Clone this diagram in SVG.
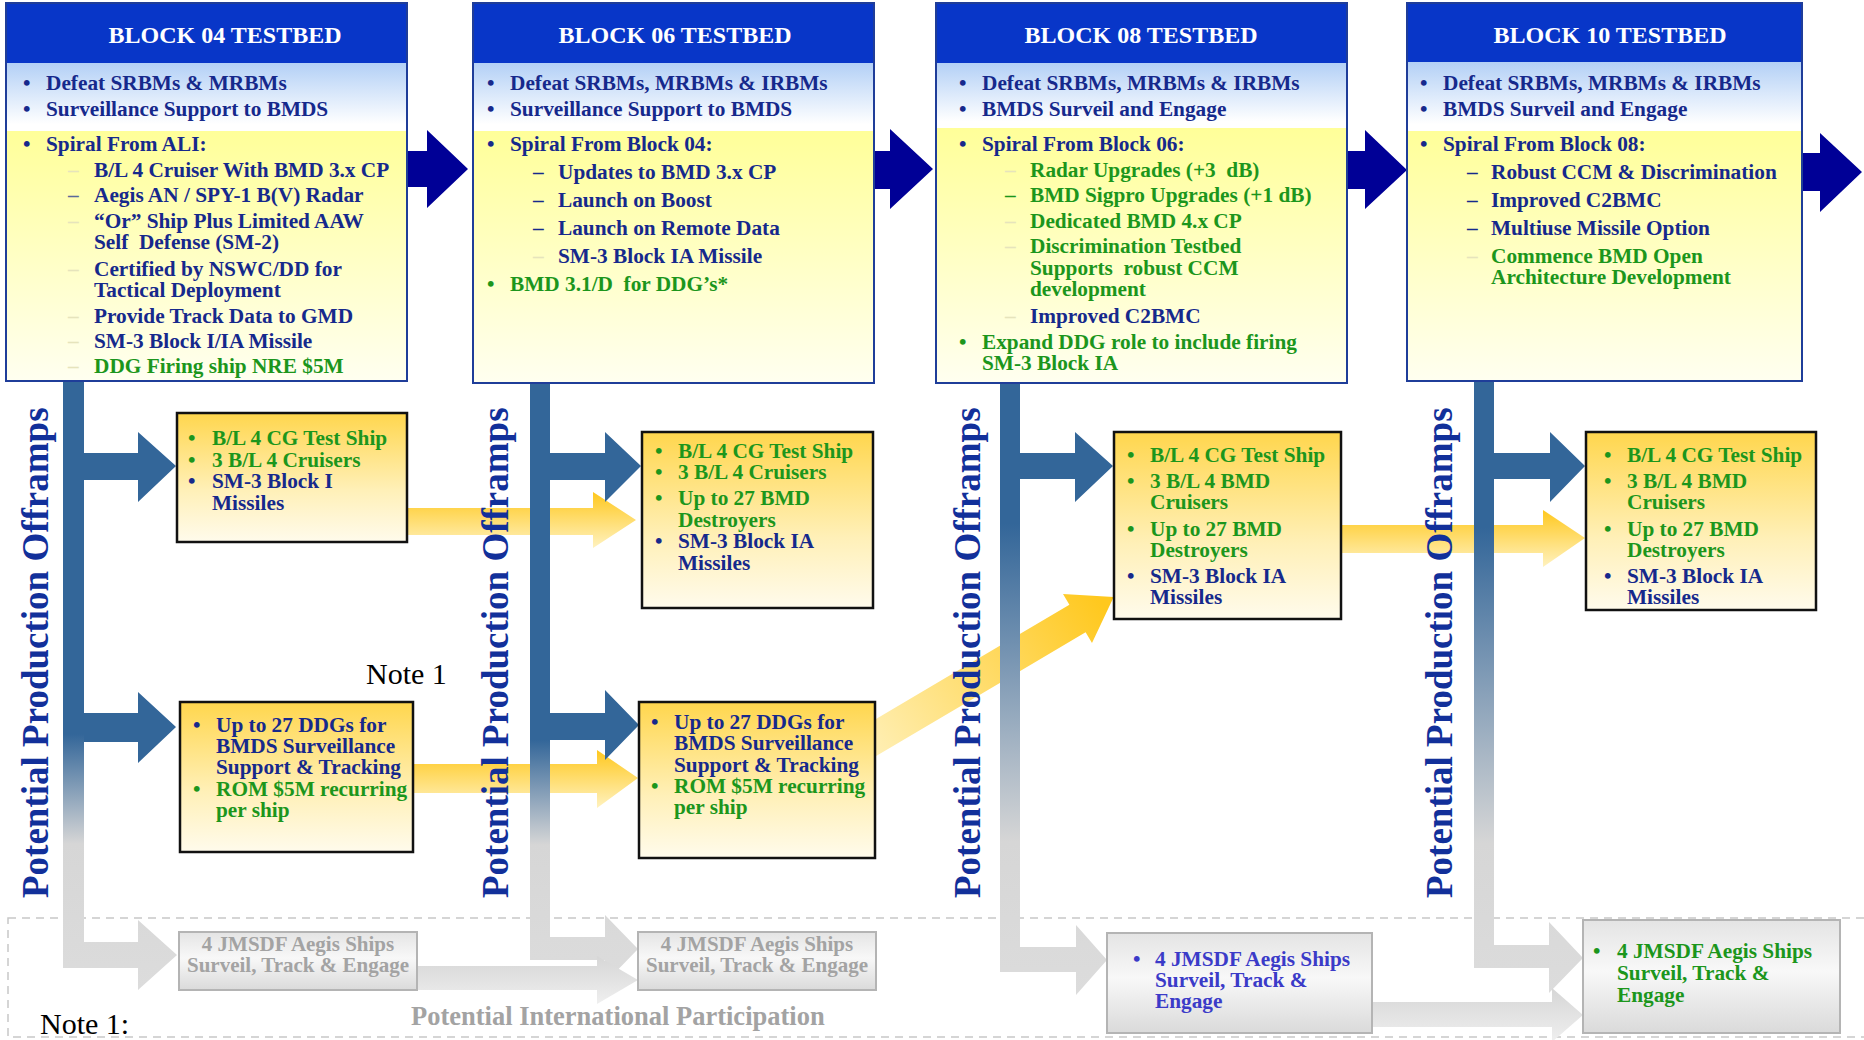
<svg xmlns="http://www.w3.org/2000/svg" width="1864" height="1040" viewBox="0 0 1864 1040">
<defs>
<style>
.t{font-family:"Liberation Serif","Times New Roman",serif;font-weight:bold;font-size:21.3px}
.n{fill:#16298c}
.g{fill:#1c961c}
.f{fill:#e6e4bc}
.hd{font-family:"Liberation Serif","Times New Roman",serif;font-weight:bold;font-size:24px;fill:#ffffff;text-anchor:middle}
.vt{font-family:"Liberation Serif","Times New Roman",serif;font-weight:bold;font-size:37px;fill:#12309a}
.hdr{fill:#0836c8}
.frame{fill:none;stroke:#1f3d99;stroke-width:2}
.ybox{fill:url(#gGold);stroke:#111111;stroke-width:2.5}
.gbox{fill:url(#gGrayBox);stroke:#b4b4b4;stroke-width:2}
.navy{fill:#000096}
.steel{fill:#336699}
.gold{fill:url(#gGoldArrow)}
.grey{fill:url(#gGrayArrow)}
.note{font-family:"Liberation Serif","Times New Roman",serif;font-size:30px;fill:#000000}
.gt{font-family:"Liberation Serif","Times New Roman",serif;font-weight:bold;font-size:21px;fill:#a3a3a3;text-anchor:middle}
.bt{fill:#3b3bc8}
</style>
<linearGradient id="gBlue" x1="0" y1="0" x2="0" y2="1"><stop offset="0" stop-color="#b3d0f6"/><stop offset="0.9" stop-color="#ffffff"/></linearGradient>
<linearGradient id="gYel" x1="0" y1="0" x2="0" y2="1"><stop offset="0" stop-color="#ffff99"/><stop offset="1" stop-color="#fffff0"/></linearGradient>
<linearGradient id="gGold" x1="0" y1="0" x2="0" y2="1"><stop offset="0" stop-color="#ffd64d"/><stop offset="0.6" stop-color="#fff0b8"/><stop offset="1" stop-color="#fffbec"/></linearGradient>
<linearGradient id="gGoldArrow" x1="0" y1="0" x2="0" y2="1"><stop offset="0" stop-color="#ffc81e"/><stop offset="1" stop-color="#fff2c0"/></linearGradient>
<linearGradient id="gDiag" gradientUnits="userSpaceOnUse" x1="870" y1="760" x2="1100" y2="600"><stop offset="0" stop-color="#fff0b8"/><stop offset="1" stop-color="#ffc81e"/></linearGradient>
<linearGradient id="gGrayBox" x1="0" y1="0" x2="0" y2="1"><stop offset="0" stop-color="#e4e4e4"/><stop offset="0.45" stop-color="#f8f8f8"/><stop offset="1" stop-color="#dadada"/></linearGradient>
<linearGradient id="gGrayArrow" x1="0" y1="0" x2="0" y2="1"><stop offset="0" stop-color="#d6d6d6"/><stop offset="1" stop-color="#efefef"/></linearGradient>
<linearGradient id="gBar04" gradientUnits="userSpaceOnUse" x1="0" y1="381" x2="0" y2="990"><stop offset="0" stop-color="#336699"/><stop offset="0.58" stop-color="#336699"/><stop offset="0.76" stop-color="#d6d6d6"/><stop offset="1" stop-color="#dcdcdc"/></linearGradient>
<linearGradient id="gBar06" gradientUnits="userSpaceOnUse" x1="0" y1="383" x2="0" y2="983"><stop offset="0" stop-color="#336699"/><stop offset="0.595" stop-color="#336699"/><stop offset="0.77" stop-color="#d6d6d6"/><stop offset="1" stop-color="#dcdcdc"/></linearGradient>
<linearGradient id="gBar08" gradientUnits="userSpaceOnUse" x1="0" y1="383" x2="0" y2="995"><stop offset="0" stop-color="#336699"/><stop offset="0.23" stop-color="#336699"/><stop offset="0.75" stop-color="#d6d6d6"/><stop offset="1" stop-color="#dcdcdc"/></linearGradient>
<linearGradient id="gBar10" gradientUnits="userSpaceOnUse" x1="0" y1="381" x2="0" y2="993"><stop offset="0" stop-color="#336699"/><stop offset="0.24" stop-color="#336699"/><stop offset="0.755" stop-color="#d6d6d6"/><stop offset="1" stop-color="#dcdcdc"/></linearGradient>
</defs>

<rect x="0" y="0" width="1864" height="1040" fill="#ffffff"/>

<g id="international-zone">
<rect x="8" y="918" width="1872" height="119" fill="none" stroke="#c8c8c8" stroke-width="1.5" stroke-dasharray="8 6"/>
</g>

<g id="connectors">
<path class="navy" d="M407,151 H427 V130 L468,169 L427,208 V187 H407 Z"/>
<path class="navy" d="M874,151 H890 V129 L933,169 L890,209 V189 H874 Z"/>
<path class="navy" d="M1347,151 H1365 V130 L1407,170 L1365,209 V189 H1347 Z"/>
<path class="navy" d="M1802,153 H1820 V133 L1862,172 L1820,212 V191 H1802 Z"/>
<path class="gold" d="M400,508 H593 V492 L636,520 L593,548 V535 H400 Z"/>
<path class="gold" d="M405,764 H597 V750 L638,778 L597,808 V793 H405 Z"/>
<path fill="url(#gDiag)" d="M851.9,733.3 L1069.4,604.7 L1063,594 L1113.7,597.1 L1092,643 L1085.6,632.3 L868.1,760.8 Z"/>
<path class="gold" d="M1335,525 H1543 V510 L1585,538 L1543,567 V553 H1335 Z"/>
<path fill="url(#gBar04)" d="M63,381 H84 V942 H138 V920 L177,955 L138,990 V968 H63 Z"/>
<path fill="url(#gBar06)" d="M530,383 H550 V937 H605 V915 L638,949 L605,983 V960 H530 Z"/>
<path fill="url(#gBar08)" d="M1000,383 H1020 V947 H1076 V925 L1107,960 L1076,995 V972 H1000 Z"/>
<path fill="url(#gBar10)" d="M1474,381 H1494 V945 H1549 V922 L1583,958 L1549,993 V968 H1474 Z"/>
<path class="steel" d="M84,453 H138 V432 L176,466 L138,502 V480 H84 Z"/>
<path class="steel" d="M84,713 H138 V692 L176,727 L138,763 V742 H84 Z"/>
<path class="steel" d="M550,453 H605 V432 L641,466 L605,502 V480 H550 Z"/>
<path class="steel" d="M550,713 H605 V690 L639,725 L605,760 V740 H550 Z"/>
<path class="steel" d="M1020,453 H1075 V432 L1113,466 L1075,502 V479 H1020 Z"/>
<path class="steel" d="M1494,453 H1550 V432 L1585,466 L1550,502 V479 H1494 Z"/>
<path class="grey" d="M416,966 H597 V956 L638,980 L597,1004 V990 H416 Z"/>
<path class="grey" d="M1371,1002 H1552 V988 L1583,1015 L1552,1042 V1027 H1371 Z"/>
</g>

<g id="offramp-labels">
<text class="vt" transform="translate(48,898) rotate(-90)">Potential Production Offramps</text>
<text class="vt" transform="translate(508,898) rotate(-90)">Potential Production Offramps</text>
<text class="vt" transform="translate(980,898) rotate(-90)">Potential Production Offramps</text>
<text class="vt" transform="translate(1452,898) rotate(-90)">Potential Production Offramps</text>
</g>

<g id="block04">
<rect class="hdr" x="6" y="3" width="401" height="60"/>
<rect x="6" y="63" width="401" height="68" fill="url(#gBlue)"/>
<rect x="6" y="131" width="401" height="250" fill="url(#gYel)"/>
<rect class="frame" x="6" y="3" width="401" height="378"/>
<text class="hd" x="225" y="43">BLOCK 04 TESTBED</text>
<g class="t">
<text class="n" x="23" y="89.5">•</text><text class="n" x="46" y="89.5">Defeat SRBMs &amp; MRBMs</text>
<text class="n" x="23" y="115.5">•</text><text class="n" x="46" y="115.5">Surveillance Support to BMDS</text>
<text class="n" x="23" y="150.5">•</text><text class="n" x="46" y="150.5">Spiral From ALI:</text>
<text class="f" x="68" y="176.5">–</text><text class="n" x="94" y="176.5">B/L 4 Cruiser With BMD 3.x CP</text>
<text fill="#5a6a9a" x="68" y="201.5">–</text><text class="n" x="94" y="201.5">Aegis AN / SPY-1 B(V) Radar</text>
<text class="f" x="68" y="228">–</text><text class="n" x="94" y="228">“Or” Ship Plus Limited AAW</text>
<text class="n" x="94" y="249">Self&#160; Defense (SM-2)</text>
<text class="f" x="68" y="276">–</text><text class="n" x="94" y="276">Certified by NSWC/DD for</text>
<text class="n" x="94" y="297">Tactical Deployment</text>
<text class="f" x="68" y="323">–</text><text class="n" x="94" y="323">Provide Track Data to GMD</text>
<text class="f" x="68" y="348">–</text><text class="n" x="94" y="348">SM-3 Block I/IA Missile</text>
<text class="f" x="68" y="373">–</text><text class="g" x="94" y="373">DDG Firing ship NRE $5M</text>
</g>
</g>

<g id="block06">
<rect class="hdr" x="473" y="3" width="401" height="60"/>
<rect x="473" y="63" width="401" height="68" fill="url(#gBlue)"/>
<rect x="473" y="131" width="401" height="252" fill="url(#gYel)"/>
<rect class="frame" x="473" y="3" width="401" height="380"/>
<text class="hd" x="675" y="43">BLOCK 06 TESTBED</text>
<g class="t">
<text class="n" x="487" y="90">•</text><text class="n" x="510" y="90">Defeat SRBMs, MRBMs &amp; IRBMs</text>
<text class="n" x="487" y="116">•</text><text class="n" x="510" y="116">Surveillance Support to BMDS</text>
<text class="n" x="487" y="151">•</text><text class="n" x="510" y="151">Spiral From Block 04:</text>
<text class="n" x="533" y="179">–</text><text class="n" x="558" y="179">Updates to BMD 3.x CP</text>
<text class="n" x="533" y="207">–</text><text class="n" x="558" y="207">Launch on Boost</text>
<text class="n" x="533" y="235">–</text><text class="n" x="558" y="235">Launch on Remote Data</text>
<text class="f" x="533" y="263">–</text><text class="n" x="558" y="263">SM-3 Block IA Missile</text>
<text class="g" x="487" y="291">•</text><text class="g" x="510" y="291">BMD 3.1/D&#160; for DDG’s*</text>
</g>
</g>

<g id="block08">
<rect class="hdr" x="936" y="3" width="411" height="60"/>
<rect x="936" y="63" width="411" height="65" fill="url(#gBlue)"/>
<rect x="936" y="128" width="411" height="255" fill="url(#gYel)"/>
<rect class="frame" x="936" y="3" width="411" height="380"/>
<text class="hd" x="1141" y="43">BLOCK 08 TESTBED</text>
<g class="t">
<text class="n" x="959" y="90">•</text><text class="n" x="982" y="90">Defeat SRBMs, MRBMs &amp; IRBMs</text>
<text class="n" x="959" y="116">•</text><text class="n" x="982" y="116">BMDS Surveil and Engage</text>
<text class="n" x="959" y="151">•</text><text class="n" x="982" y="151">Spiral From Block 06:</text>
<text class="f" x="1005" y="177">–</text><text class="g" x="1030" y="177">Radar Upgrades (+3&#160; dB)</text>
<text class="g" x="1005" y="202">–</text><text class="g" x="1030" y="202">BMD Sigpro Upgrades (+1 dB)</text>
<text class="f" x="1005" y="228">–</text><text class="g" x="1030" y="228">Dedicated BMD 4.x CP</text>
<text class="f" x="1005" y="253">–</text><text class="g" x="1030" y="253">Discrimination Testbed</text>
<text class="g" x="1030" y="275">Supports&#160; robust CCM</text>
<text class="g" x="1030" y="296">development</text>
<text class="f" x="1005" y="323">–</text><text class="n" x="1030" y="323">Improved C2BMC</text>
<text class="g" x="959" y="349">•</text><text class="g" x="982" y="349">Expand DDG role to include firing</text>
<text class="g" x="982" y="370">SM-3 Block IA</text>
</g>
</g>

<g id="block10">
<rect class="hdr" x="1407" y="3" width="395" height="59"/>
<rect x="1407" y="62" width="395" height="69" fill="url(#gBlue)"/>
<rect x="1407" y="131" width="395" height="250" fill="url(#gYel)"/>
<rect class="frame" x="1407" y="3" width="395" height="378"/>
<text class="hd" x="1610" y="43">BLOCK 10 TESTBED</text>
<g class="t">
<text class="n" x="1420" y="90">•</text><text class="n" x="1443" y="90">Defeat SRBMs, MRBMs &amp; IRBMs</text>
<text class="n" x="1420" y="116">•</text><text class="n" x="1443" y="116">BMDS Surveil and Engage</text>
<text class="n" x="1420" y="151">•</text><text class="n" x="1443" y="151">Spiral From Block 08:</text>
<text class="n" x="1467" y="179">–</text><text class="n" x="1491" y="179">Robust CCM &amp; Discrimination</text>
<text class="n" x="1467" y="207">–</text><text class="n" x="1491" y="207">Improved C2BMC</text>
<text class="n" x="1467" y="235">–</text><text class="n" x="1491" y="235">Multiuse Missile Option</text>
<text class="f" x="1467" y="263">–</text><text class="g" x="1491" y="263">Commence BMD Open</text>
<text class="g" x="1491" y="284">Architecture Development</text>
</g>
</g>

<g id="offramp04-upper">
<rect class="ybox" x="177" y="413" width="230" height="129"/>
<g class="t">
<text class="g" x="188" y="445">•</text><text class="g" x="212" y="445">B/L 4 CG Test Ship</text>
<text class="g" x="188" y="467">•</text><text class="g" x="212" y="467">3 B/L 4 Cruisers</text>
<text class="n" x="188" y="488">•</text><text class="n" x="212" y="488">SM-3 Block I</text>
<text class="n" x="212" y="510">Missiles</text>
</g>
</g>

<g id="offramp04-lower">
<rect class="ybox" x="180" y="702" width="233" height="150"/>
<g class="t">
<text class="n" x="193" y="732">•</text><text class="n" x="216" y="732">Up to 27 DDGs for</text>
<text class="n" x="216" y="753">BMDS Surveillance</text>
<text class="n" x="216" y="774">Support &amp; Tracking</text>
<text class="g" x="193" y="796">•</text><text class="g" x="216" y="796">ROM $5M recurring</text>
<text class="g" x="216" y="817">per ship</text>
</g>
</g>

<g id="offramp06-upper">
<rect class="ybox" x="642" y="432" width="231" height="176"/>
<g class="t">
<text class="g" x="655" y="458">•</text><text class="g" x="678" y="458">B/L 4 CG Test Ship</text>
<text class="g" x="655" y="479">•</text><text class="g" x="678" y="479">3 B/L 4 Cruisers</text>
<text class="g" x="655" y="505">•</text><text class="g" x="678" y="505">Up to 27 BMD</text>
<text class="g" x="678" y="527">Destroyers</text>
<text class="n" x="655" y="548">•</text><text class="n" x="678" y="548">SM-3 Block IA</text>
<text class="n" x="678" y="570">Missiles</text>
</g>
</g>

<g id="offramp06-lower">
<rect class="ybox" x="639" y="702" width="236" height="156"/>
<g class="t">
<text class="n" x="651" y="729">•</text><text class="n" x="674" y="729">Up to 27 DDGs for</text>
<text class="n" x="674" y="750">BMDS Surveillance</text>
<text class="n" x="674" y="772">Support &amp; Tracking</text>
<text class="g" x="651" y="793">•</text><text class="g" x="674" y="793">ROM $5M recurring</text>
<text class="g" x="674" y="814">per ship</text>
</g>
</g>

<g id="offramp08-upper">
<rect class="ybox" x="1114" y="432" width="227" height="187"/>
<g class="t">
<text class="g" x="1127" y="462">•</text><text class="g" x="1150" y="462">B/L 4 CG Test Ship</text>
<text class="g" x="1127" y="488">•</text><text class="g" x="1150" y="488">3 B/L 4 BMD</text>
<text class="g" x="1150" y="509">Cruisers</text>
<text class="g" x="1127" y="536">•</text><text class="g" x="1150" y="536">Up to 27 BMD</text>
<text class="g" x="1150" y="557">Destroyers</text>
<text class="n" x="1127" y="583">•</text><text class="n" x="1150" y="583">SM-3 Block IA</text>
<text class="n" x="1150" y="604">Missiles</text>
</g>
</g>

<g id="offramp10-upper">
<rect class="ybox" x="1586" y="432" width="230" height="178"/>
<g class="t">
<text class="g" x="1604" y="462">•</text><text class="g" x="1627" y="462">B/L 4 CG Test Ship</text>
<text class="g" x="1604" y="488">•</text><text class="g" x="1627" y="488">3 B/L 4 BMD</text>
<text class="g" x="1627" y="509">Cruisers</text>
<text class="g" x="1604" y="536">•</text><text class="g" x="1627" y="536">Up to 27 BMD</text>
<text class="g" x="1627" y="557">Destroyers</text>
<text class="n" x="1604" y="583">•</text><text class="n" x="1627" y="583">SM-3 Block IA</text>
<text class="n" x="1627" y="604">Missiles</text>
</g>
</g>

<g id="jmsdf04">
<rect class="gbox" x="179" y="932" width="238" height="58"/>
<text class="gt" x="298" y="951">4 JMSDF Aegis Ships</text>
<text class="gt" x="298" y="972">Surveil, Track &amp; Engage</text>
</g>

<g id="jmsdf06">
<rect class="gbox" x="638" y="932" width="238" height="58"/>
<text class="gt" x="757" y="951">4 JMSDF Aegis Ships</text>
<text class="gt" x="757" y="972">Surveil, Track &amp; Engage</text>
</g>

<g id="jmsdf08">
<rect class="gbox" x="1107" y="933" width="265" height="100"/>
<g class="t">
<text class="bt" x="1133" y="966">•</text><text class="bt" x="1155" y="966">4 JMSDF Aegis Ships</text>
<text class="bt" x="1155" y="987">Surveil, Track &amp;</text>
<text class="bt" x="1155" y="1008">Engage</text>
</g>
</g>

<g id="jmsdf10">
<rect class="gbox" x="1583" y="920" width="257" height="113"/>
<g class="t">
<text class="g" x="1593" y="958">•</text><text class="g" x="1617" y="958">4 JMSDF Aegis Ships</text>
<text class="g" x="1617" y="980">Surveil, Track &amp;</text>
<text class="g" x="1617" y="1002">Engage</text>
</g>
</g>

<g id="notes">
<text class="note" x="366" y="684">Note 1</text>
<text class="note" x="40" y="1034">Note 1:</text>
<text x="411" y="1025" font-family="Liberation Serif, Times New Roman, serif" font-weight="bold" font-size="26.5px" fill="#a3a3a3">Potential International Participation</text>
</g>
</svg>
